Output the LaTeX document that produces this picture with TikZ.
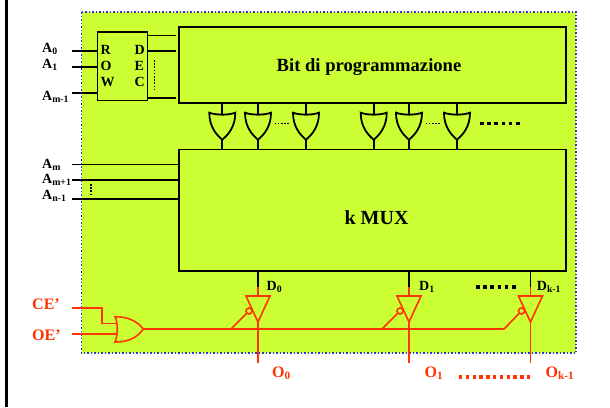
\documentclass[tikz,border=0pt]{standalone}
\usepackage{fontspec}
\setmainfont{Liberation Serif}
\usepackage{xcolor}
\usetikzlibrary{calc}
\definecolor{piano}{HTML}{CCFF33}
\definecolor{rosso}{HTML}{FF3300}
\definecolor{bordo}{HTML}{3333CC}
\tikzset{
    blocco/.style={draw=black, line width=1.8pt, inner sep=0pt, outer sep=0pt, anchor=north west},
    filo/.style={line width=1.8pt, black},
    filor/.style={line width=1.6pt, rosso},
    lettera/.style={anchor=base west, inner sep=0pt, font=\fontsize{14}{16}\selectfont\bfseries},
    etic/.style={anchor=base west, inner sep=0pt, font=\fontsize{14}{16}\selectfont\bfseries},
    etir/.style={anchor=base west, inner sep=0pt, text=rosso, font=\fontsize{16}{18}\selectfont\bfseries},
    titolo/.style={inner sep=0pt, font=\fontsize{#1}{20}\selectfont\bfseries},
    puntini/.style={line width=#1, dash pattern=on #1 off #1},
    orgate/.pic={
        \draw[filo] (-13,0) .. controls (-6,2.6) and (6,2.6) .. (13,0)
            .. controls (13,14) and (6,22) .. (0,27)
            .. controls (-6,22) and (-13,14) .. (-13,0) -- cycle;
        \coordinate (-in) at (0,1.9);
        \coordinate (-out) at (0,27);
    },
    buffer/.pic={
        \draw[filor] (-12,0) -- (12,0) -- (0,26) -- cycle;
        \draw[filor] (-9,15) circle (3);
        \coordinate (-in) at (0,0);
        \coordinate (-out) at (0,26);
        \coordinate (-en) at (-11.2,17.2);
    }
}
\begin{document}
\begin{tikzpicture}[x=1pt, y=-1pt]
    \useasboundingbox (0,0) rectangle (610,407);
    \draw[line width=2.8pt, black] (6.5,0) -- (6.5,407);
    \draw[fill=piano, draw=bordo, line width=1.5pt, dotted] (81.5,12) rectangle (576,353);

    % blocchi
    \node[blocco, minimum width=50pt, minimum height=68.5pt] (rowdec) at (97.5,32) {};
    \node[blocco, minimum width=387pt, minimum height=76pt] (bits) at (179,27) {};
    \node[blocco, minimum width=387pt, minimum height=121.5pt] (mux) at (179,149.5) {};
    \node[titolo=18.6] (lbits) at (369,67) {Bit di programmazione};
    \node[titolo=20] (lmux) at (376.5,218) {k MUX};

    \node[lettera] (r) at (100.5,54.3) {R};
    \node[lettera] (o) at (100.5,70.5) {O};
    \node[lettera] (w) at (100.5,86) {W};
    \node[lettera] (d) at (134.5,54.3) {D};
    \node[lettera] (e) at (134.5,70.5) {E};
    \node[lettera] (c) at (134.5,86) {C};

    % ingressi di riga
    \foreach \n/\y in {a0/51, a1/67, am1/93} {
        \coordinate (\n-start) at (72,\y);
        \draw[filo] (\n-start) -- (\n-start -| rowdec.west);
    }
    \node[etic] (la0) at (42,52) {A\textsubscript{0}};
    \node[etic] (la1) at (42,68) {A\textsubscript{1}};
    \node[etic] (lam1) at (42,100.5) {A\textsubscript{m-1}};

    % uscite decoder
    \foreach \n/\y in {w0/35.5, w1/51, w2/98} {
        \coordinate (\n-end) at (176,\y);
        \draw[filo] (\n-end -| rowdec.east) -- (\n-end);
    }
    \draw[puntini=1.6pt] (154.5,60) -- (154.5,89);

    % ingressi di colonna
    \foreach \n/\y in {m0/164.5, m1/180, m2/199} {
        \coordinate (\n-start) at (72,\y);
        \draw[filo] (\n-start) -- (\n-start -| mux.west);
    }
    \node[etic] (lm0) at (42,168) {A\textsubscript{m}};
    \node[etic] (lm1) at (42,183.5) {A\textsubscript{m+1}};
    \node[etic] (lm2) at (42,199) {A\textsubscript{n-1}};
    \draw[puntini=1.6pt] (91,184) -- (91,194);

    % porte
    \foreach \i/\x in {1/222.3, 2/258, 3/306, 4/373.7, 5/409, 6/457} {
        \pic (g\i) at (\x,112.7) {orgate};
        \draw[filo] (bits.south -| g\i-in) -- (g\i-in);
        \draw[filo] (g\i-out) -- (mux.north -| g\i-out);
    }
    \draw[puntini=1.6pt] (274.5,123.5) -- (288.5,123.5);
    \draw[puntini=1.6pt] (425.5,123.5) -- (439.5,123.5);
    \draw[puntini=3.6pt] (480,123.5) -- (523,123.5);

    % buffer di uscita
    \pic (b0) at (258,296) {buffer};
    \pic (b1) at (409,296) {buffer};
    \pic (b2) at (530.5,296) {buffer};
    \foreach \i/\l/\xl/\t in {0/d0/266.5/0, 1/d1/419/1, 2/d2/536.7/{k-1}} {
        \coordinate (d\i-mid) at ($(b\i-in)+(0,-9)$);
        \draw[filo] (mux.south -| b\i-in) -- (d\i-mid);
        \draw[filor] (d\i-mid) -- (b\i-in);
        \node[etic] (\l) at (\xl,290) {D\textsubscript{\t}};
    }
    \draw[puntini=3.6pt] (476,287) -- (518,287);

    % abilitazione
    \coordinate (ce) at (72,308);
    \coordinate (oe) at (72,334);
    \draw[filor] (115,316.7) .. controls (118,322) and (118,336) .. (115,342)
        .. controls (128,342) and (137,338) .. (143.3,329)
        .. controls (137,321) and (128,316.7) .. (115,316.7) -- cycle;
    \coordinate (orout) at (143.3,329);
    \draw[filor] (ce) -- (102,308) -- (102,323.5) -- (116.8,323.5);
    \draw[filor] (oe) -- (116.8,334);
    \coordinate (j0) at (231,329);
    \coordinate (j1) at (382,329);
    \coordinate (j2) at (504,329);
    \draw[filor] (orout) -- (j2) -- (b2-en);
    \draw[filor] (j0) -- (b0-en);
    \draw[filor] (j1) -- (b1-en);
    \node[etir] (lce) at (32,309) {CE’};
    \node[etir] (loe) at (32,340.5) {OE’};

    % uscite
    \foreach \i/\l/\xl/\t in {0/o0/272/0, 1/o1/424.5/1, 2/o2/545.5/{k-1}} {
        \coordinate (o\i-end) at ($(b\i-in)+(0,67)$);
        \draw[filor] (b\i-out) -- (o\i-end);
        \node[etir] (\l) at (\xl,377) {O\textsubscript{\t}};
    }
    \draw[puntini=3.4pt, rosso] (459,377) -- (531,377);
\end{tikzpicture}
\end{document}
